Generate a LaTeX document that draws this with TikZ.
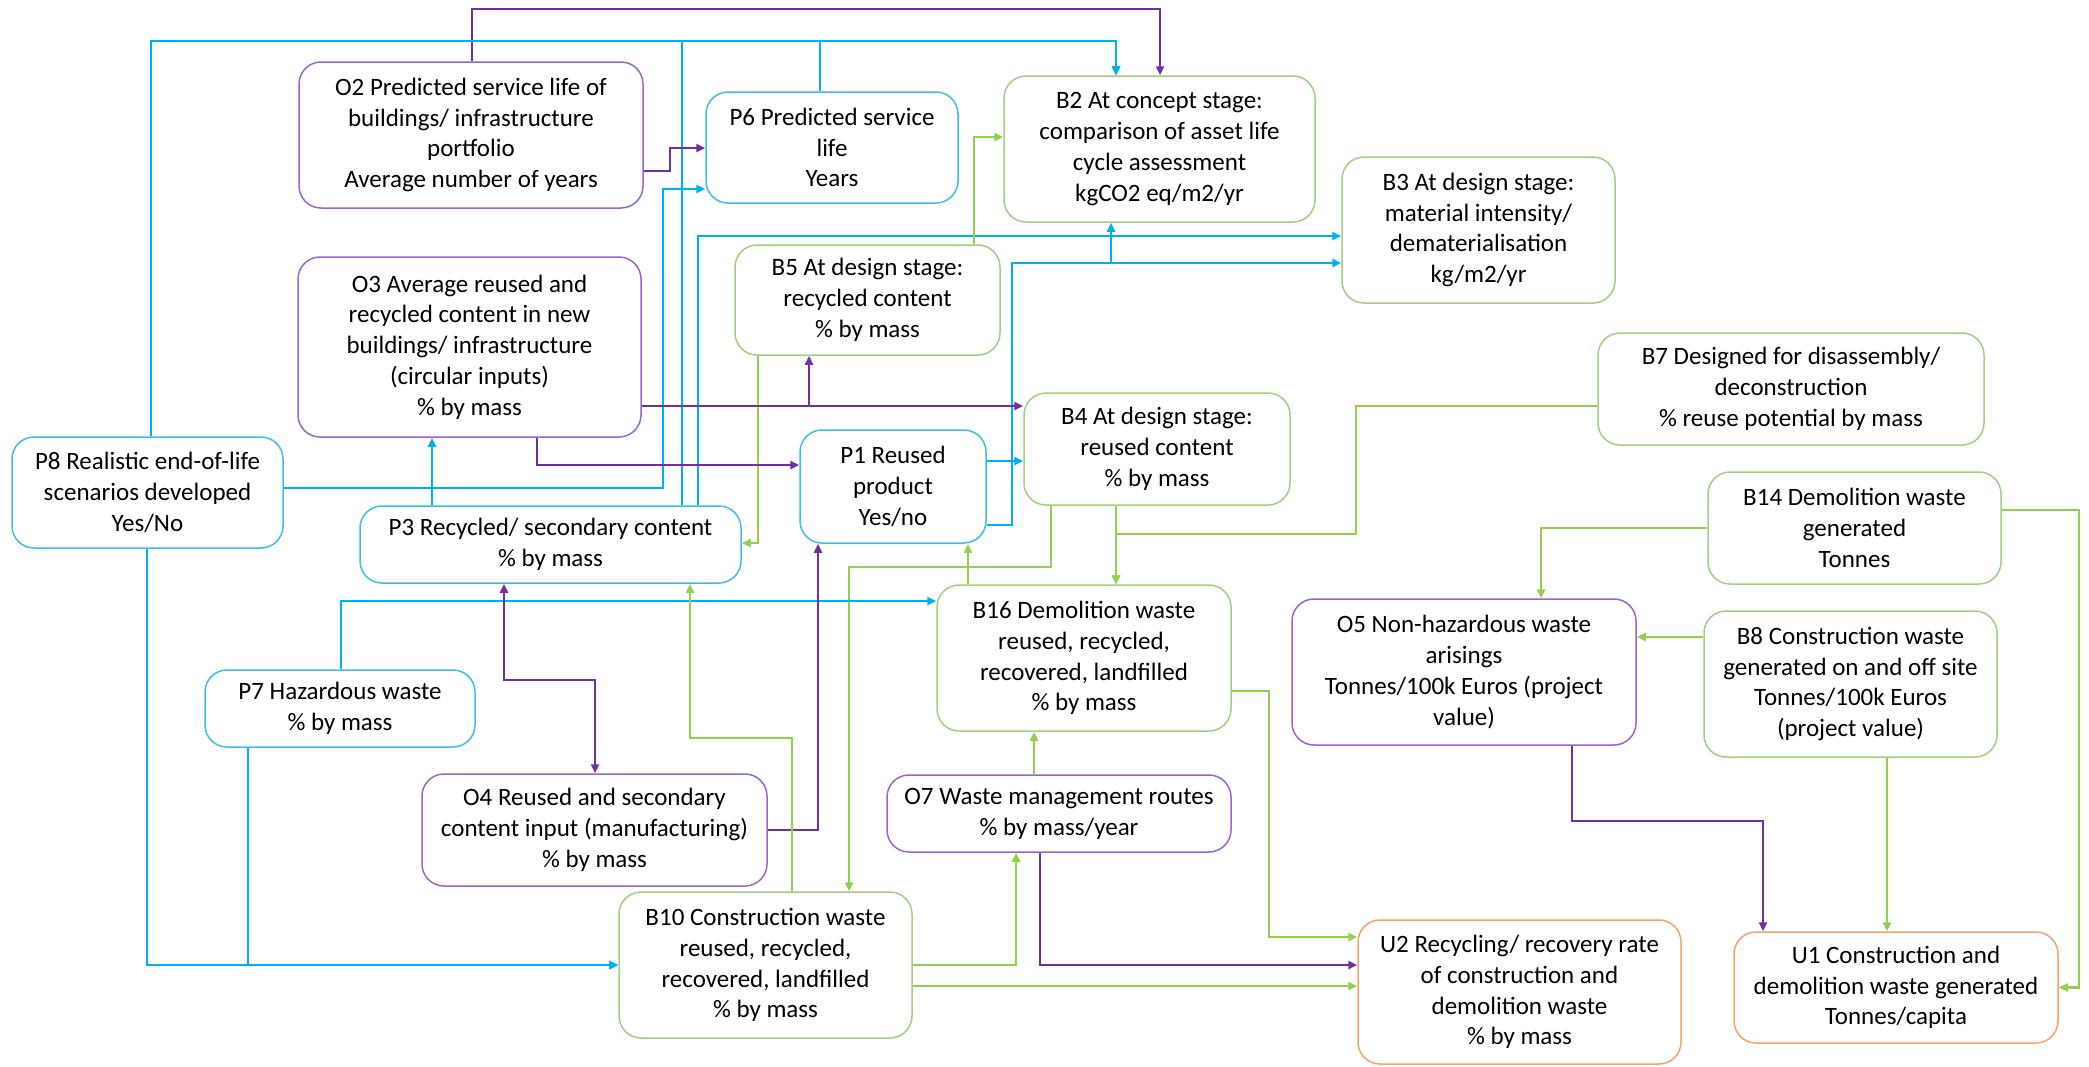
\documentclass[tikz,border=0pt]{standalone}
\usepackage{fontspec}
\setmainfont{Carlito}
\usetikzlibrary{arrows.meta}
\definecolor{cblue}{HTML}{00B0F0}
\definecolor{cpurple}{HTML}{7030A0}
\definecolor{cgreen}{HTML}{92D050}
\definecolor{bblue}{HTML}{3DBCF0}
\definecolor{bpurple}{HTML}{9966CC}
\definecolor{bgreen}{HTML}{A3CF84}
\definecolor{borange}{HTML}{F5A26B}
\tikzset{
  box/.style={rounded corners=22pt, line width=1.5pt, align=center, fill=white,
    font=\fontsize{25}{30.8}\selectfont, inner sep=2pt},
  boxP/.style={box, draw=bblue},
  boxO/.style={box, draw=bpurple},
  boxB/.style={box, draw=bgreen},
  boxU/.style={box, draw=borange},
  tip/.style={-{Triangle[length=9pt,width=8pt]}},
  conB/.style={draw=cblue, line width=2.5pt, tip},
  conP/.style={draw=cpurple, line width=2.5pt, tip},
  conG/.style={draw=cgreen, line width=2.5pt, tip},
}
\begin{document}
\begin{tikzpicture}[x=1pt,y=-1pt]
\useasboundingbox (0,0) rectangle (2089,1066);
\fill[white] (0,0) rectangle (2089,1066);

% nodes
\node[boxO, minimum width=344pt, minimum height=146pt] (O2) at (471,135) {O2 Predicted service life of\\ buildings/ infrastructure\\ portfolio\\ Average number of years};
\node[boxP, minimum width=252pt, minimum height=111pt] (P6) at (832,147.5) {P6 Predicted service\\ life\\ Years};
\node[boxB, minimum width=311pt, minimum height=146pt] (B2) at (1159.5,149) {B2 At concept stage:\\ comparison of asset life\\ cycle assessment\\ kgCO2 eq/m2/yr};
\node[boxB, minimum width=273pt, minimum height=146pt] (B3) at (1478.5,230) {B3 At design stage:\\ material intensity/\\ dematerialisation\\ kg/m2/yr};
\node[boxB, minimum width=265pt, minimum height=110pt] (B5) at (867.5,300) {B5 At design stage:\\ recycled content\\ \% by mass};
\node[boxO, minimum width=343pt, minimum height=180pt] (O3) at (469.5,347) {O3 Average reused and\\ recycled content in new\\ buildings/ infrastructure\\ (circular inputs)\\ \% by mass};
\node[boxB, minimum width=386pt, minimum height=112pt] (B7) at (1791,389) {B7 Designed for disassembly/\\ deconstruction\\ \% reuse potential by mass};
\node[boxB, minimum width=266pt, minimum height=112pt] (B4) at (1157,449) {B4 At design stage:\\ reused content\\ \% by mass};
\node[boxP, minimum width=271pt, minimum height=111pt] (P8) at (147.5,492.5) {P8 Realistic end-of-life\\ scenarios developed\\ Yes/No};
\node[boxP, minimum width=186pt, minimum height=113pt] (P1) at (893,486.5) {P1 Reused\\ product\\ Yes/no};
\node[boxP, minimum width=381pt, minimum height=77pt] (P3) at (550.5,544.5) {P3 Recycled/ secondary content\\ \% by mass};
\node[boxB, minimum width=293pt, minimum height=112pt] (B14) at (1854.5,528) {B14 Demolition waste\\ generated\\ Tonnes};
\node[boxB, minimum width=294pt, minimum height=146pt] (B16) at (1084,658) {B16 Demolition waste\\ reused, recycled,\\ recovered, landfilled\\ \% by mass};
\node[boxO, minimum width=344pt, minimum height=146pt] (O5) at (1464,672) {O5 Non-hazardous waste\\ arisings\\ Tonnes/100k Euros (project\\ value)};
\node[boxB, minimum width=293pt, minimum height=146pt] (B8) at (1850.5,684) {B8 Construction waste\\ generated on and off site\\ Tonnes/100k Euros\\ (project value)};
\node[boxP, minimum width=270pt, minimum height=77pt] (P7) at (340,708.5) {P7 Hazardous waste\\ \% by mass};
\node[boxO, minimum width=345pt, minimum height=112pt] (O4) at (594.5,830) {O4 Reused and secondary\\ content input (manufacturing)\\ \% by mass};
\node[boxO, minimum width=344pt, minimum height=77pt] (O7) at (1059,813.5) {O7 Waste management routes\\ \% by mass/year};
\node[boxB, minimum width=293pt, minimum height=146pt] (B10) at (765.5,965) {B10 Construction waste\\ reused, recycled,\\ recovered, landfilled\\ \% by mass};
\node[boxU, minimum width=323pt, minimum height=144pt] (U2) at (1519.5,992) {U2 Recycling/ recovery rate\\ of construction and\\ demolition waste\\ \% by mass};
\node[boxU, minimum width=324pt, minimum height=111pt] (U1) at (1896,987.5) {U1 Construction and\\ demolition waste generated\\ Tonnes/capita};

% connectors: top
\draw[conP] (472,0 |- O2.north) -- (472,9) -- (1160,9) -- (1160,0 |- B2.north);
\draw[conB] (151,0 |- P8.north) -- (151,41) -- (1116,41) -- (1116,0 |- B2.north);
\draw[conB] (682,0 |- P3.north) -- (682,41) -- (1116,41) -- (1116,0 |- B2.north);
\draw[conB] (820,0 |- P6.north) -- (820,41) -- (1116,41) -- (1116,0 |- B2.north);
\draw[conB] (698,0 |- P3.north) -- (698,236) -- (B3.west |- 0,236);
\draw[conB] (P1.east |- 0,525) -- (1012,525) -- (1012,263) -- (B3.west |- 0,263);
\draw[conB] (P1.east |- 0,525) -- (1012,525) -- (1012,263) -- (1111,263) -- (1111,0 |- B2.south);
\draw[conB] (P8.east |- 0,488) -- (663,488) -- (663,189) -- (P6.west |- 0,189);
\draw[conP] (O2.east |- 0,171) -- (670,171) -- (670,148) -- (P6.west |- 0,148);
\draw[conG] (974,0 |- B5.north) -- (974,137) -- (B2.west |- 0,137);
\draw[conG] (758,0 |- B5.south) -- (758,543) -- (P3.east |- 0,543);
\draw[conP] (O3.east |- 0,406) -- (B4.west |- 0,406);
\draw[conP] (O3.east |- 0,406) -- (809,406) -- (809,0 |- B5.south);
\draw[conP] (537,0 |- O3.south) -- (537,465) -- (P1.west |- 0,465);
\draw[conB] (432,0 |- P3.north) -- (432,0 |- O3.south);
\draw[conB] (P1.east |- 0,461) -- (B4.west |- 0,461);
% middle
\draw[conG] (1051,0 |- B4.south) -- (1051,567) -- (849,567) -- (849,0 |- B10.north);
\draw[conG] (968,0 |- B16.north) -- (968,0 |- P1.south);
\draw[conB] (341,0 |- P7.north) -- (341,601) -- (B16.west |- 0,601);
\draw[conP, {Triangle[length=9pt,width=8pt]}-{Triangle[length=9pt,width=8pt]}] (504,0 |- P3.south) -- (504,680) -- (595,680) -- (595,0 |- O4.north);
\draw[conP] (O4.east |- 0,830) -- (818,830) -- (818,0 |- P1.south);
\draw[conG] (792,0 |- B10.north) -- (792,738) -- (690,738) -- (690,0 |- P3.south);
\draw[conB] (147,0 |- P8.south) -- (147,965) -- (B10.west |- 0,965);
\draw[conB] (248,0 |- P7.south) -- (248,965) -- (B10.west |- 0,965);
% bottom
\draw[conG] (B10.east |- 0,965) -- (1016,965) -- (1016,0 |- O7.south);
\draw[conG] (B10.east |- 0,986) -- (U2.west |- 0,986);
\draw[conP] (1040,0 |- O7.south) -- (1040,965) -- (U2.west |- 0,965);
\draw[conG] (1034,0 |- O7.north) -- (1034,0 |- B16.south);
\draw[conG] (B16.east |- 0,691) -- (1269,691) -- (1269,937) -- (U2.west |- 0,937);
\draw[conG] (1116,0 |- B4.south) -- (1116,0 |- B16.north);
\draw[conG] (B7.west |- 0,406) -- (1356,406) -- (1356,534) -- (1116,534) -- (1116,0 |- B16.north);
% right
\draw[conG] (B14.west) -- (1541,0 |- B14.west) -- (1541,0 |- O5.north);
\draw[conG] (B14.east |- 0,510) -- (2079,510) -- (2079,0 |- U1.east) -- (U1.east);
\draw[conG] (B8.west |- 0,637) -- (O5.east |- 0,637);
\draw[conG] (1887,0 |- B8.south) -- (1887,0 |- U1.north);
\draw[conP] (1572,0 |- O5.south) -- (1572,821) -- (1763,821) -- (1763,0 |- U1.north);
\end{tikzpicture}
\end{document}
